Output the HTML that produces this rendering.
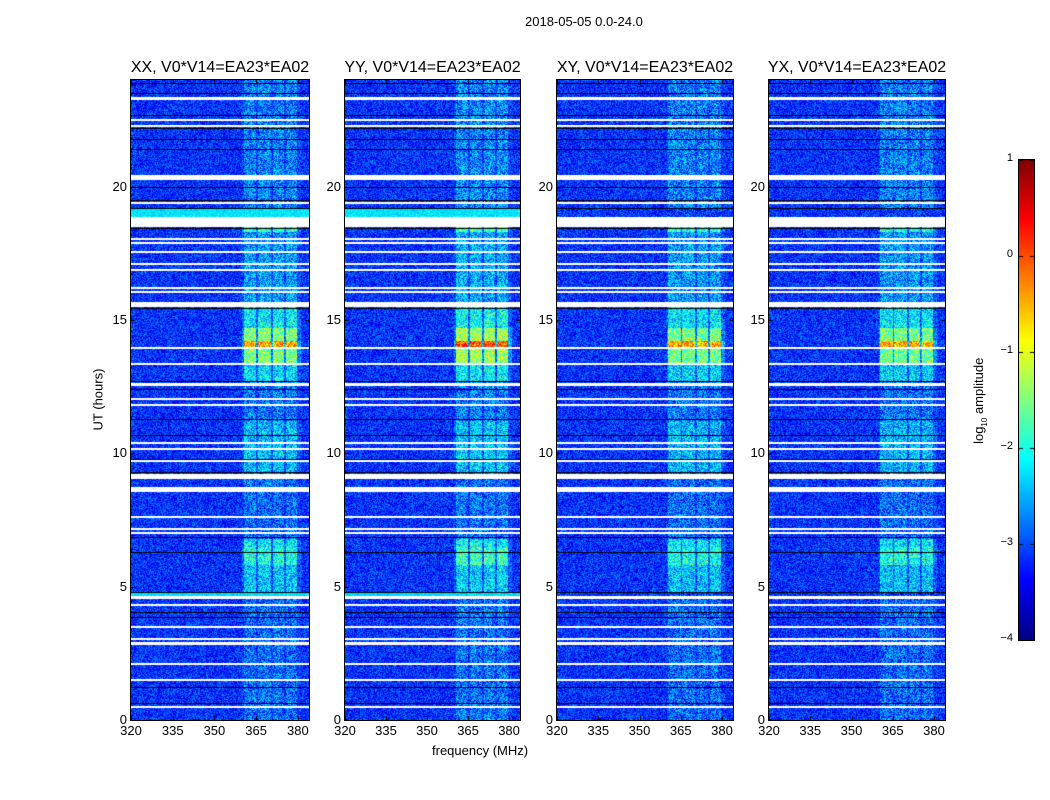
<!DOCTYPE html>
<html><head><meta charset="utf-8">
<style>
body{margin:0;background:#fff;font-family:"Liberation Sans",sans-serif;}
#root{position:relative;width:1050px;height:800px;overflow:hidden;background:#fff;}
.t{position:absolute;font-size:13px;color:#000;white-space:nowrap;}
.pt{position:absolute;font-size:16px;color:#000;white-space:nowrap;text-align:center;}
canvas{position:absolute;}
.frame{position:absolute;border:1px solid #000;box-sizing:border-box;}
</style></head><body>
<div id="root">
<div class="t" style="left:525px;top:14px;">2018-05-05 0.0-24.0</div>
<div class="t" style="left:60px;top:392px;transform:rotate(-90deg);transform-origin:center;width:76px;text-align:center;">UT (hours)</div>
<div class="t" style="left:432px;top:743px;">frequency (MHz)</div>
<canvas id="cbar" width="15" height="480" style="left:1019px;top:160px;"></canvas>
<div class="frame" style="left:1018px;top:159px;width:17px;height:482px;"></div>
<div class="t" style="left:930px;top:392px;transform:rotate(-90deg);width:100px;text-align:center;">log<sub style="font-size:8px">10</sub> amplitude</div>
</div>
<script>
// ---- data (hours / MHz / log10 amplitude) ----
const panelTitles = ["XX, V0*V14=EA23*EA02","YY, V0*V14=EA23*EA02","XY, V0*V14=EA23*EA02","YX, V0*V14=EA23*EA02"];
const panelGain = [1.0, 1.12, 0.97, 0.97];
const panelCyan = [true, true, false, false];
const xTicks = [320,335,350,365,380];
const yTicks = [0,5,10,15,20];
const cbTicks = [1,0,-1,-2,-3,-4];
const rfiStart = [360.5, 365.6, 371.0, 375.7];
const rfiEnd   = [365.1, 370.2, 375.0, 379.6];
const segStart = [0.0, 4.8, 5.8, 6.5, 6.8, 9.3, 11.2, 12.7, 13.3, 14.0, 14.2, 14.7, 15.5, 18.3, 19.2];
const segEnd   = [4.7, 5.8, 6.5, 6.8, 9.3, 11.2, 12.7, 13.3, 14.0, 14.2, 14.7, 15.5, 18.3, 18.5, 24.0];
const segLevel = [-2.85, -2.4, -2.0, -2.2, -2.85, -2.45, -2.8, -2.3, -1.5, -0.4, -1.5, -2.2, -2.6, -1.9, -2.75];
const whiteStart = [23.25,22.45,22.25,20.25,19.35,18.5,18.0,17.85,17.5,17.05,16.85,16.15,16.0,15.5,13.92,13.32,12.5,12.02,11.78,10.38,10.13,9.68,9.05,8.55,7.58,7.13,6.98,4.55,4.28,3.48,3.03,2.8,2.08,1.48,0.48];
const whiteEnd   = [23.35,22.52,22.33,20.42,19.42,18.88,18.07,17.92,17.57,17.12,16.92,16.22,16.07,15.68,13.98,13.38,12.62,12.08,11.85,10.44,10.2,9.75,9.22,8.72,7.65,7.2,7.05,4.65,4.34,3.54,3.09,2.92,2.14,1.54,0.54];
const blackLines = [23.9,23.5,22.7,22.2,21.8,21.4,20.0,19.5,19.2,18.45,15.45,12.7,12.4,11.3,10.7,9.8,9.3,6.85,6.3,4.8,4.05,3.85,1.25,0.65];
const cyanStart = [18.88, 4.65];
const cyanEnd   = [19.2, 4.75];
const cyanLevel = [-2.25, -2.3];
const baseLevel = -3.15;

// ---- helpers ----
function jet(v){
  const c=x=>Math.max(0,Math.min(1,x));
  const r=c(1.5-Math.abs(4*v-3)), g=c(1.5-Math.abs(4*v-2)), b=c(1.5-Math.abs(4*v-1));
  return [r*255|0,g*255|0,b*255|0];
}
function norm(l){return (l+4)/5;}
function hash(a,b){let h=(a*374761393+b*668265263)|0;h=(h^(h>>>13))*1274126177|0;return ((h^(h>>>16))>>>0)/4294967296;}

const root=document.getElementById('root');
const panelLeft=[131,345,557,769], panelW=[178,175,176,176], top0=80, H=640;

panelTitles.forEach((title,p)=>{
  const L=panelLeft[p], W=panelW[p];
  const xs=f=>(f-320)/64*W, ys=h=>H-(h/24)*H;
  const cv=document.createElement('canvas');
  cv.width=W;cv.height=H;cv.style.left=L+'px';cv.style.top=top0+'px';
  
  
  root.appendChild(cv);
  const ctx=cv.getContext('2d');const img=ctx.createImageData(W,H);
  for(let y=0;y<H;y++){
    const h=(H-y-0.5)/H*24;
    let seg=baseLevel;
    for(let i=0;i<segStart.length;i++) if(h>=segStart[i]&&h<segEnd[i]) seg=segLevel[i];
    let cyan=null;
    if(panelCyan[p]) for(let i=0;i<cyanStart.length;i++) if(h>=cyanStart[i]&&h<cyanEnd[i]) cyan=cyanLevel[i];
    for(let x=0;x<W;x++){
      const f=320+(x+0.5)/W*64;
      let v=baseLevel, nz=1.0;
      let inR=false;
      for(let k=0;k<rfiStart.length;k++) if(f>=rfiStart[k]&&f<rfiEnd[k]) inR=true;
      if(inR){ v=baseLevel+(seg-baseLevel)*panelGain[p]; nz=1.3; }
      else if(f>=360&&f<381) v=baseLevel+(seg-baseLevel)*0.25;
      if(cyan!==null){ v=Math.max(v,cyan); nz=0.5; }
      v+= (hash(x+p*999,y)-0.5)*nz;
      const c=jet(Math.max(0,Math.min(1,norm(v))));
      const o=(y*W+x)*4;img.data[o]=c[0];img.data[o+1]=c[1];img.data[o+2]=c[2];img.data[o+3]=255;
    }
  }
  ctx.putImageData(img,0,0);
  ctx.fillStyle='#000';
  blackLines.forEach(b=>ctx.fillRect(0,Math.round(ys(b)),W,1));
  ctx.fillStyle='#fff';
  whiteStart.forEach((s,i)=>{const y1=ys(whiteEnd[i]),y2=ys(s);ctx.fillRect(0,Math.round(y1),W,Math.max(1,Math.round(y2-y1)));});
  const fr=document.createElement('div');fr.className='frame';
  fr.style.cssText=`left:${L-1}px;top:${top0-1}px;width:${W+2}px;height:${H+2}px;`;
  
  
  root.appendChild(fr);
  const t=document.createElement('div');t.className='pt';t.textContent=title;
  t.style.cssText=`left:${L+W/2-130}px;width:260px;top:59px;`;
  
  
  root.appendChild(t);
  xTicks.forEach(v=>{
    const x=L+xs(v);
    const tk=document.createElement('div');tk.className='t';tk.textContent=v;
    tk.style.cssText=`left:${x-15}px;width:30px;text-align:center;top:723px;`;
    
    
    root.appendChild(tk);
    ctx.fillStyle='#000';ctx.fillRect(Math.round(xs(v)),H-4,1,4);ctx.fillRect(Math.round(xs(v)),0,1,4);
  });
  yTicks.forEach(v=>{
    const y=top0+ys(v);
    const tk=document.createElement('div');tk.className='t';tk.textContent=v;
    tk.style.cssText=`left:${L-34}px;width:30px;text-align:right;top:${y-8}px;`;
    
    
    root.appendChild(tk);
    ctx.fillStyle='#000';ctx.fillRect(0,Math.round(ys(v)),4,1);ctx.fillRect(W-4,Math.round(ys(v)),4,1);
  });
});

const cb=document.getElementById('cbar').getContext('2d');
for(let y=0;y<480;y++){const c=jet(1-(y+0.5)/480);cb.fillStyle=`rgb(${c})`;cb.fillRect(0,y,15,1);}
cbTicks.forEach(v=>{
  const y=160+(1-v)/5*480;
  const tk=document.createElement('div');tk.className='t';tk.textContent=(v<0?'\u2212'+(-v):v);
  tk.style.cssText=`left:${983}px;width:30px;text-align:right;top:${y-8}px;font-size:11px;`;
  
  
  root.appendChild(tk);
  cb.fillStyle='#000';cb.fillRect(0,Math.round(y-160),4,1);cb.fillRect(11,Math.round(y-160),4,1);
});
</script>
</body></html>
